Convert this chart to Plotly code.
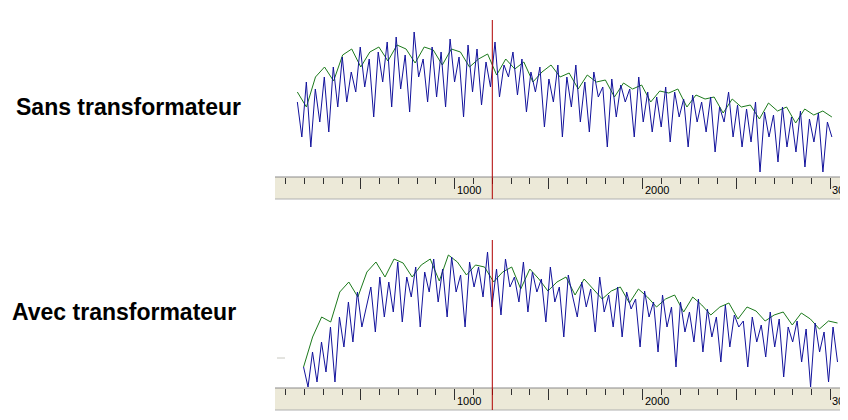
import plotly.graph_objects as go
import numpy as np

# ---- data (amplitudes) ----
top_blue = [75,40,95,30,88,55,100,45,110,70,
            120,75,105,85,130,90,118,60,125,95,
            135,70,140,88,122,65,145,100,118,75,
            130,80,125,70,138,95,120,60,132,85,
            128,72,115,90,135,80,112,100,125,82,
            118,65,105,85,110,50,98,75,112,40,
            100,70,112,55,95,45,105,80,90,30,
            98,60,92,75,88,40,100,55,85,45,
            80,50,90,35,85,60,78,30,82,55,
            75,45,80,25,70,55,85,40,72,30,
            68,35,75,5,65,40,62,15,70,30,
            60,25,66,10,58,35,64,5,55,40]
top_green = [85,70,100,110,96,122,128,110,125,130,
             116,132,128,114,130,127,112,128,125,110,
             118,123,102,118,108,115,95,105,112,100,
             104,88,102,95,97,80,94,88,92,75,
             86,84,88,70,82,78,80,64,78,70,
             72,58,74,66,70,54,68,62,66,60]
bot_blue = [20,0,35,5,45,15,60,5,70,40,
            85,45,95,60,80,100,55,110,70,105,
            75,125,65,110,90,120,60,115,95,128,
            85,118,70,130,95,112,60,125,100,120,
            90,135,80,118,72,128,100,110,85,125,
            75,115,95,108,65,120,85,100,50,112,
            90,70,105,80,98,55,110,75,92,60,
            100,50,95,78,88,40,96,70,85,35,
            92,60,80,20,85,55,75,45,88,35,
            78,50,70,25,82,40,72,60,66,20,
            70,45,62,30,75,40,68,10,60,45,
            66,25,58,0,64,35,55,5,60,25]
bot_green = [20,50,70,65,95,105,90,115,125,110,
             128,124,110,122,128,106,132,125,112,122,
             120,105,115,120,98,118,108,96,105,110,
             92,108,98,88,96,100,84,98,90,80,
             88,92,75,90,82,72,80,84,68,80,
             76,66,72,75,62,74,68,58,66,64]
top_start, top_end = 162, 3008
bot_start, bot_end = 195, 3038
marker_pos = 1200
tick_labels = [1000, 2000, 3000]
labels = ["Sans transformateur", "Avec transformateur"]

OFF = 8  # page body margin
W, H = 848 - OFF, 420 - OFF
def fy(px):
    return 1 - (px - OFF) / H
def fx(px):
    return (px - OFF) / W

BLUE = "#12129c"
GREEN = "#1c7a1c"

fig = go.Figure()
def add(vals, start, end, color, xa, ya):
    xs = np.linspace(start, end, len(vals))
    fig.add_trace(go.Scatter(x=xs, y=vals, mode="lines", line=dict(color=color, width=1),
                             xaxis=xa, yaxis=ya, showlegend=False, hoverinfo="skip"))
add(top_green, top_start, top_end, GREEN, "x", "y")
add(top_blue, top_start, top_end, BLUE, "x", "y")
add(bot_green, bot_start, bot_end, GREEN, "x2", "y2")
add(bot_blue, bot_start, bot_end, BLUE, "x2", "y2")

xr = [43, 3137 - OFF / 0.185]
dom_x = [fx(275), 1.0]
axcommon = dict(range=xr, domain=dom_x, showgrid=False, zeroline=False, showline=False,
                tickmode="array", tickvals=list(range(0, 3100, 500)), ticks="outside",
                ticklen=11, tickcolor="#303030", tickwidth=1, showticklabels=False,
                minor=dict(tickmode="array", tickvals=list(range(100, 3100, 100)),
                           ticks="outside", ticklen=6, tickcolor="#303030"))
ycommon = dict(showgrid=False, zeroline=False, showline=False, showticklabels=False, ticks="")

shapes = []
annotations = []
panels = [("x", "y", 177, 199, 20), ("x2", "y2", 388, 410, 240)]
for xa, ya, rtop, rbot, redtop in panels:
    shapes.append(dict(type="rect", xref="paper", yref="paper", x0=fx(275), x1=1,
                       y0=fy(rbot), y1=fy(rtop), fillcolor="#ece9d8",
                       line=dict(width=0), layer="below"))
    shapes.append(dict(type="line", xref="paper", yref="paper", x0=fx(275), x1=1,
                       y0=fy(rtop), y1=fy(rtop), line=dict(color="#8a8a8a", width=1)))
    shapes.append(dict(type="line", xref="paper", yref="paper", x0=fx(275), x1=1,
                       y0=fy(rbot), y1=fy(rbot), line=dict(color="#b0b0b0", width=1)))
    shapes.append(dict(type="line", xref=xa, yref="paper", x0=marker_pos, x1=marker_pos,
                       y0=fy(rbot), y1=fy(redtop), line=dict(color="#b00000", width=1)))
    for t in tick_labels:
        annotations.append(dict(x=t, xref=xa, y=fy(rbot - 1), yref="paper", text=str(t),
                                showarrow=False, xanchor="left", yanchor="bottom",
                                font=dict(family="Liberation Sans", size=11, color="#000")))
shapes.append(dict(type="line", xref="paper", yref="paper", x0=fx(277), x1=fx(285),
                   y0=fy(358), y1=fy(358), line=dict(color="#c8c8c0", width=1)))

annotations.append(dict(x=fx(128), y=fy(107), xref="paper", yref="paper", xanchor="center",
                        yanchor="middle", text="<b>" + labels[0] + "</b>",
                        showarrow=False, font=dict(family="Liberation Sans", size=23, color="#000")))
annotations.append(dict(x=fx(124), y=fy(312), xref="paper", yref="paper", xanchor="center",
                        yanchor="middle", text="<b>" + labels[1] + "</b>",
                        showarrow=False, font=dict(family="Liberation Sans", size=23, color="#000")))

fig.update_layout(
    width=W, height=H, margin=dict(l=0, r=0, t=0, b=0),
    paper_bgcolor="white", plot_bgcolor="rgba(0,0,0,0)",
    xaxis=dict(anchor="free", position=fy(177), **axcommon),
    xaxis2=dict(anchor="free", position=fy(388), **axcommon),
    yaxis=dict(domain=[fy(177), fy(20)], range=[0, 157], anchor="x", **ycommon),
    yaxis2=dict(domain=[fy(387), fy(235)], range=[0, 152], anchor="x2", **ycommon),
    shapes=shapes, annotations=annotations,
)
fig.write_html("out.html")
